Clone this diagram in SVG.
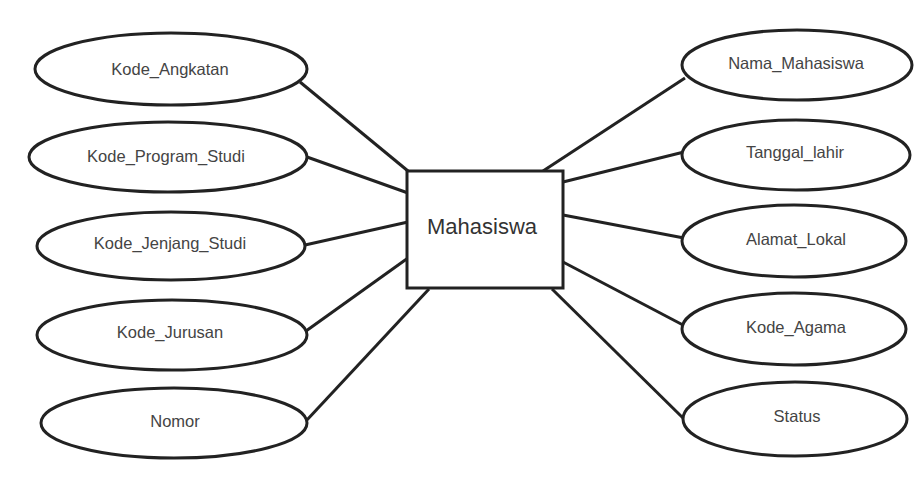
<svg xmlns="http://www.w3.org/2000/svg" width="914" height="480" viewBox="0 0 914 480">
<style>
.attr ellipse{fill:#fff;stroke:#222;stroke-width:3}
.ent rect{fill:#fff;stroke:#222;stroke-width:3}
text{font-family:"Liberation Sans",Arial,sans-serif;fill:#444;text-anchor:middle;dominant-baseline:central}
.attr text{font-size:16.5px}
.ent text{font-size:22px;fill:#333}
#connectors line{stroke:#222;stroke-width:3}
</style>
<rect width="914" height="480" fill="#fff"/>
<g id="connectors">
<line x1="300" y1="82" x2="408" y2="171"/>
<line x1="307" y1="157" x2="408" y2="193"/>
<line x1="305" y1="245" x2="408" y2="222"/>
<line x1="306" y1="331" x2="408" y2="258"/>
<line x1="306" y1="421" x2="429" y2="289"/>
<line x1="685" y1="78" x2="543" y2="171"/>
<line x1="684" y1="152" x2="563" y2="182"/>
<line x1="684" y1="238" x2="563" y2="215"/>
<line x1="683" y1="325" x2="563" y2="262"/>
<line x1="683" y1="418" x2="552" y2="289"/>
</g>
<g id="entity-mahasiswa" class="ent"><rect x="407" y="171" width="156" height="117"/><text x="482" y="226">Mahasiswa</text></g>
<g id="attr-kode-angkatan" class="attr"><ellipse cx="171" cy="69" rx="136" ry="36"/><text x="170" y="69">Kode_Angkatan</text></g>
<g id="attr-kode-program-studi" class="attr"><ellipse cx="168" cy="157" rx="139" ry="35"/><text x="166" y="156">Kode_Program_Studi</text></g>
<g id="attr-kode-jenjang-studi" class="attr"><ellipse cx="171" cy="246" rx="134" ry="34"/><text x="170" y="243">Kode_Jenjang_Studi</text></g>
<g id="attr-kode-jurusan" class="attr"><ellipse cx="172" cy="335" rx="135" ry="35"/><text x="170" y="332">Kode_Jurusan</text></g>
<g id="attr-nomor" class="attr"><ellipse cx="174" cy="423" rx="133" ry="35"/><text x="175" y="421">Nomor</text></g>
<g id="attr-nama-mahasiswa" class="attr"><ellipse cx="797" cy="65" rx="115" ry="35"/><text x="796" y="63">Nama_Mahasiswa</text></g>
<g id="attr-tanggal-lahir" class="attr"><ellipse cx="796" cy="155" rx="114" ry="35"/><text x="795" y="152">Tanggal_lahir</text></g>
<g id="attr-alamat-lokal" class="attr"><ellipse cx="794" cy="241" rx="112" ry="36"/><text x="796" y="239">Alamat_Lokal</text></g>
<g id="attr-kode-agama" class="attr"><ellipse cx="794" cy="329" rx="112" ry="36"/><text x="796" y="327">Kode_Agama</text></g>
<g id="attr-status" class="attr"><ellipse cx="795" cy="419" rx="112" ry="37"/><text x="797" y="416">Status</text></g>
</svg>
